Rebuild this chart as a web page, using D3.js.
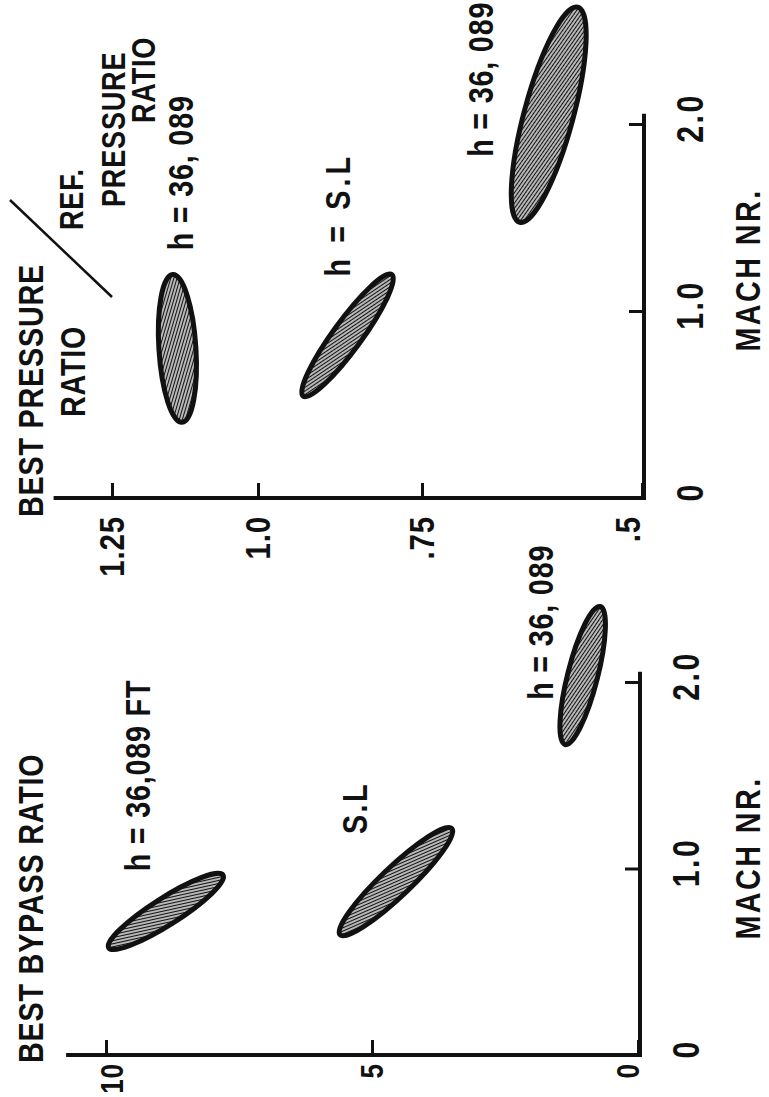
<!DOCTYPE html>
<html>
<head>
<meta charset="utf-8">
<script src="https://cdn.jsdelivr.net/npm/d3@7"></script>
<style>
  html, body { margin: 0; padding: 0; background: #fff; }
  svg text {
    font-family: "Liberation Sans", Arial, sans-serif;
    font-weight: bold;
    fill: #111;
  }
</style>
</head>
<body>
<div id="chart"></div>
<script>
// Mach number axis, shared by both panels
const machTicks = [0, 1, 2];
const machTickLabels = ['0', '1.0', '2.0'];

// left panel: best bypass ratio
const bypassTicks = [10, 5, 0];
const bypassTickLabels = ['10', '5', '0'];
const bypassCases = ['h = 36,089 FT', 'S.L', 'h = 36, 089'];
const bypassMachLow = [0.58, 0.65, 1.67];
const bypassAtLow = [9.95, 5.6, 1.37];
const bypassMachHigh = [0.97, 1.22, 2.41];
const bypassAtHigh = [7.8, 3.5, 0.71];
const bypassSpread = [0.2, 0.19, 0.21];

// right panel: best pressure ratio / ref. pressure ratio
const pressureTicks = [1.25, 1.0, 0.75, 0.5];
const pressureTickLabels = ['1.25', '1.0', '.75', '.5'];
const pressureCases = ['h = 36, 089', 'h = S.L', 'h = 36, 089'];
const pressureMachLow = [0.41, 0.55, 1.48];
const pressureAtLow = [1.13, 0.931, 0.639];
const pressureMachHigh = [1.20, 1.20, 2.63];
const pressureAtHigh = [1.146, 0.796, 0.573];
const pressureSpread = [0.25, 0.19, 0.22];

const width = 769, height = 1097;
const squeeze = 0.82;   // narrow lettering

const svg = d3.select('#chart').append('svg')
    .attr('width', width)
    .attr('height', height)
    .style('background', '#fff');

const defs = svg.append('defs');
const hatch = defs.append('pattern')
    .attr('id', 'hatch')
    .attr('patternUnits', 'userSpaceOnUse')
    .attr('width', 6)
    .attr('height', 3)
    .attr('patternTransform', 'rotate(20)');
hatch.append('rect').attr('width', 6).attr('height', 3).attr('fill', '#fff');
hatch.append('line')
    .attr('x1', 0).attr('x2', 6)
    .attr('y1', 1.5).attr('y2', 1.5)
    .attr('stroke', '#111')
    .attr('stroke-width', 1.6);

// the page is printed sideways: draw upright in a 1097 x 769 frame, then turn it
const frame = svg.append('g')
    .attr('transform', `translate(0,${height}) rotate(-90)`);

// scales (frame coordinates)
const xB = d3.scaleLinear().domain([0, 2]).range([41, 414]);
const yB = d3.scaleLinear().domain([0, 10]).range([638, 106]);
const xT = d3.scaleLinear().domain([0, 2]).range([598, 972]);
const yT = d3.scaleLinear().domain([1.25, 1.0, 0.75, 0.5]).range([112, 258, 422, 642]);

function drawAxes(x, y, yTicks, yLabels, yTop, yPad, ySize, xEnd) {
    const g = frame.append('g');
    const y0 = d3.max(y.range());
    const x0 = x(0);

    g.append('g')
        .attr('class', 'mach')
        .attr('transform', `translate(0,${y0 + 2})`)
        .call(d3.axisBottom(x)
            .tickValues(machTicks)
            .tickFormat((d, i) => machTickLabels[i])
            .tickSizeInner(-15)
            .tickSizeOuter(0)
            .tickPadding(33))
        .call(a => a.select('.domain').remove())
        .call(a => a.selectAll('.tick line').attr('stroke', '#111').attr('stroke-width', 3))
        .call(a => a.selectAll('.tick text')
            .attr('dx', 8)
            .style('font-size', '37px')
            .style('letter-spacing', '3px')
            .style('font-family', null));

    g.append('g')
        .attr('class', 'ratio')
        .attr('transform', `translate(${x0 + 1},0)`)
        .call(d3.axisLeft(y)
            .tickValues(yTicks)
            .tickFormat((d, i) => yLabels[i])
            .tickSizeInner(-15)
            .tickSizeOuter(0)
            .tickPadding(yPad))
        .call(a => a.select('.domain').remove())
        .call(a => a.selectAll('.tick line').attr('stroke', '#111').attr('stroke-width', 3))
        .call(a => a.selectAll('.tick text')
            .style('font-size', ySize + 'px')
            .style('letter-spacing', '1px')
            .style('font-family', null));

    // axis lines forming the corner
    g.append('path')
        .attr('d', `M${x0 + 1},${yTop} L${x0 + 1},${y0 + 2} L${x(xEnd)},${y0 + 2}`)
        .attr('fill', 'none')
        .attr('stroke', '#111')
        .attr('stroke-width', 4);
    return g;
}

const lowAxes = drawAxes(xB, yB, bypassTicks, bypassTickLabels, yB(10.75), 8, 32, 2.06);
lowAxes.selectAll('.ratio .tick text').filter(d => d === 0).attr('dy', '0.0em');
lowAxes.selectAll('.ratio .tick text').filter(d => d === 10).attr('dy', '0.5em');
const topAxes = drawAxes(xT, yT, pressureTicks, pressureTickLabels, yT(1.35), 18, 36, 2.06);
topAxes.selectAll('.ratio .tick text').filter(d => d === 0.5).attr('dy', '-0.08em');

function drawRegions(x, y, machLow, atLow, machHigh, atHigh, spread) {
    const regions = machLow.map((m, i) => {
        const x0 = x(m), y0 = y(atLow[i]);
        const x1 = x(machHigh[i]), y1 = y(atHigh[i]);
        const len = Math.hypot(x1 - x0, y1 - y0);
        return {
            cx: (x0 + x1) / 2,
            cy: (y0 + y1) / 2,
            rx: len / 2,
            ry: len / 2 * spread[i],
            angle: Math.atan2(y1 - y0, x1 - x0) * 180 / Math.PI
        };
    });
    frame.append('g')
        .selectAll('ellipse')
        .data(regions)
        .enter().append('ellipse')
        .attr('cx', d => d.cx)
        .attr('cy', d => d.cy)
        .attr('rx', d => d.rx)
        .attr('ry', d => d.ry)
        .attr('transform', d => `rotate(${d.angle},${d.cx},${d.cy})`)
        .attr('fill', 'url(#hatch)')
        .attr('stroke', '#111')
        .attr('stroke-width', 5);
}

drawRegions(xB, yB, bypassMachLow, bypassAtLow, bypassMachHigh, bypassAtHigh, bypassSpread);
drawRegions(xT, yT, pressureMachLow, pressureAtLow, pressureMachHigh, pressureAtHigh, pressureSpread);

// case labels, placed beside each region
const bypassLabelAt = [[0.99, 9.17], [1.19, 5.09], [1.91, 1.6]];
const pressureLabelAt = [[1.33, 1.111], [1.19, 0.86], [1.83, 0.669]];

frame.append('g').selectAll('text')
    .data(bypassCases)
    .enter().append('text')
    .attr('x', (d, i) => xB(bypassLabelAt[i][0]))
    .attr('y', (d, i) => yB(bypassLabelAt[i][1]))
    .style('font-size', '35px')
    .style('letter-spacing', (d, i) => i === 1 ? '3px' : '1px')
    .text(d => d);

frame.append('g').selectAll('text')
    .data(pressureCases)
    .enter().append('text')
    .attr('x', (d, i) => xT(pressureLabelAt[i][0]))
    .attr('y', (d, i) => yT(pressureLabelAt[i][1]))
    .style('font-size', '35px')
    .style('letter-spacing', (d, i) => i === 1 ? '5px' : '1px')
    .text(d => d);

// titles
function label(x, y, txt, size, anchor) {
    return frame.append('text')
        .attr('x', x)
        .attr('y', y)
        .attr('text-anchor', anchor || 'start')
        .style('font-size', size + 'px')
        .style('letter-spacing', '1px')
        .text(txt);
}

label(34, 43, 'BEST BYPASS RATIO', 35);
label(580, 43, 'BEST PRESSURE', 35);
label(680, 85, 'RATIO', 35);
label(867, 83, 'REF.', 33);
label(890, 125, 'PRESSURE', 33);
label(974, 155, 'RATIO', 33);
label(239, 760, 'MACH NR.', 35, 'middle').style('letter-spacing', '3px');
label(827, 760, 'MACH NR.', 35, 'middle').style('letter-spacing', '3px');

frame.append('line')
    .attr('x1', 800).attr('y1', 112)
    .attr('x2', 897).attr('y2', 10)
    .attr('stroke', '#111')
    .attr('stroke-width', 2.5);

// narrow the lettering in place
frame.selectAll('text').each(function() {
    const t = d3.select(this);
    const x = +t.attr('x') || 0;
    const y = +t.attr('y') || 0;
    t.attr('x', null).attr('y', null)
        .attr('transform', `translate(${x},${y}) scale(${squeeze},1)`);
});
</script>
</body>
</html>
